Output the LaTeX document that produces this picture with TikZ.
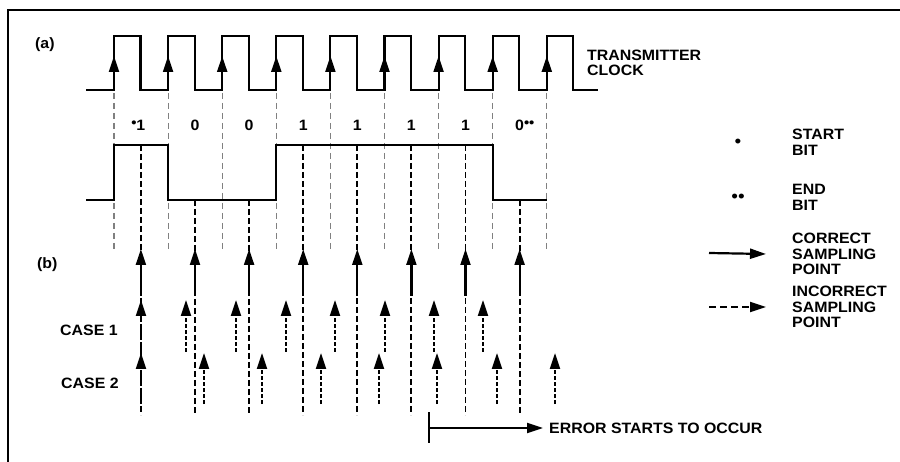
\documentclass[tikz,border=0pt]{standalone}
\usepackage{fontspec}
\setmainfont{Liberation Sans}[FakeStretch=1.06]
\usepackage{tikz}
\usetikzlibrary{arrows.meta}
\definecolor{edgegray}{rgb}{0.5, 0.5, 0.5}

\begin{document}
\begin{tikzpicture}[x=1pt, y=-1pt,
    wave/.style={line width=2.1pt},
    tip/.style={-{Triangle[length=16pt,width=10pt]}},
    edge/.style={edgegray, line width=1.1pt, dash pattern=on 6pt off 4pt},
    centre/.style={line width=1.9pt, dash pattern=on 6pt off 3pt},
    good/.style={tip, line width=2.2pt},
    bad/.style={tip, line width=2.2pt, dash pattern=on 4pt off 2pt},
    lbl/.style={font=\fontsize{15}{15.5}\selectfont\bfseries, inner sep=0pt, align=left},
    bitmark/.style={font=\fontsize{18}{18}\selectfont, inner sep=0pt}]
    \useasboundingbox (0,0) rectangle (900,462);
    \draw[line width=2.4pt] (8,462) -- (8,10) -- (900,10);
    % transmitter clock
    \draw[wave] (86,90) \foreach \k in {0,...,8}{ -- ({114+54.1*\k},90) -- ++(0,-54) -- ++(26.5,0) -- ++(0,54)} -- (598,90);
    \foreach \k in {0,...,8}{
      \draw[tip, line width=2.1pt] ({114+54.1*\k},78) -- ++(0,-22);
      \draw[edge] ({114+54.1*\k},93) -- ++(0,159);
    }
    % data
    \draw[wave] (86,200) -- (114,200) -- (114,145) -- (168.1,145) -- (168.1,200) -- (276.3,200) -- (276.3,145) -- (492.7,145) -- (492.7,200) -- (546.8,200);
    \foreach \b [count=\i from 0] in {\llap{\raisebox{2.5pt}{\fontsize{14}{14}\selectfont•}}1,0,0,1,1,1,1,0\rlap{\raisebox{2.5pt}{\fontsize{14}{14}\selectfont••}}}
      \node[lbl] (bit\i) at ({140.9+54.1*\i},125) {\b};
    \foreach \lev [count=\i from 0] in {145,200,200,145,145,145,145,200}{
      \draw[centre] ({140.9+54.1*\i},\lev) -- ({140.9+54.1*\i},415);
      \draw[good] ({140.9+54.1*\i},296) -- ++(0,-47);
    }
    % receiver samples
    \foreach \x in {141,186,236,286,335,385,434,483}
      \draw[bad] (\x,352) -- (\x,300);
    \foreach \x in {141,204,262,321,379,437,497,555}
      \draw[bad] (\x,404) -- (\x,353);
    % labels
    \node[lbl, anchor=west] (a) at (35,45) {(a)};
    \node[lbl, anchor=west] (b) at (37,265) {(b)};
    \node[lbl, anchor=west] (case1) at (60,330) {CASE 1};
    \node[lbl, anchor=west] (case2) at (61,383) {CASE 2};
    \node[lbl, anchor=west] (clock) at (587,63) {TRANSMITTER\\CLOCK};
    % key
    \node[bitmark] (dot1) at (738,143) {•};
    \node[bitmark] (dot2) at (738,198) {••};
    \node[lbl, anchor=west] (start) at (792,142.5) {START\\BIT};
    \node[lbl, anchor=west] (end) at (792,197.5) {END\\BIT};
    \node[lbl, anchor=west] (correct) at (792,254) {CORRECT\\SAMPLING\\POINT};
    \node[lbl, anchor=west] (incorrect) at (792,307) {INCORRECT\\SAMPLING\\POINT};
    \coordinate (k1) at (709,253);
    \coordinate (k2) at (709,307);
    \draw[good] (k1) -- (correct.west -| 766,0);
    \draw[bad, dash pattern=on 7pt off 4pt] (k2) -- (incorrect.west -| 766,0);
    % error marker
    \node[lbl, anchor=west] (occur) at (549,428) {ERROR STARTS TO OCCUR};
    \coordinate (err) at (429,428);
    \draw[line width=2.2pt] (429,412) -- (429,443);
    \draw[good, shorten >=6pt] (err) -- (occur.west);
\end{tikzpicture}
\end{document}
